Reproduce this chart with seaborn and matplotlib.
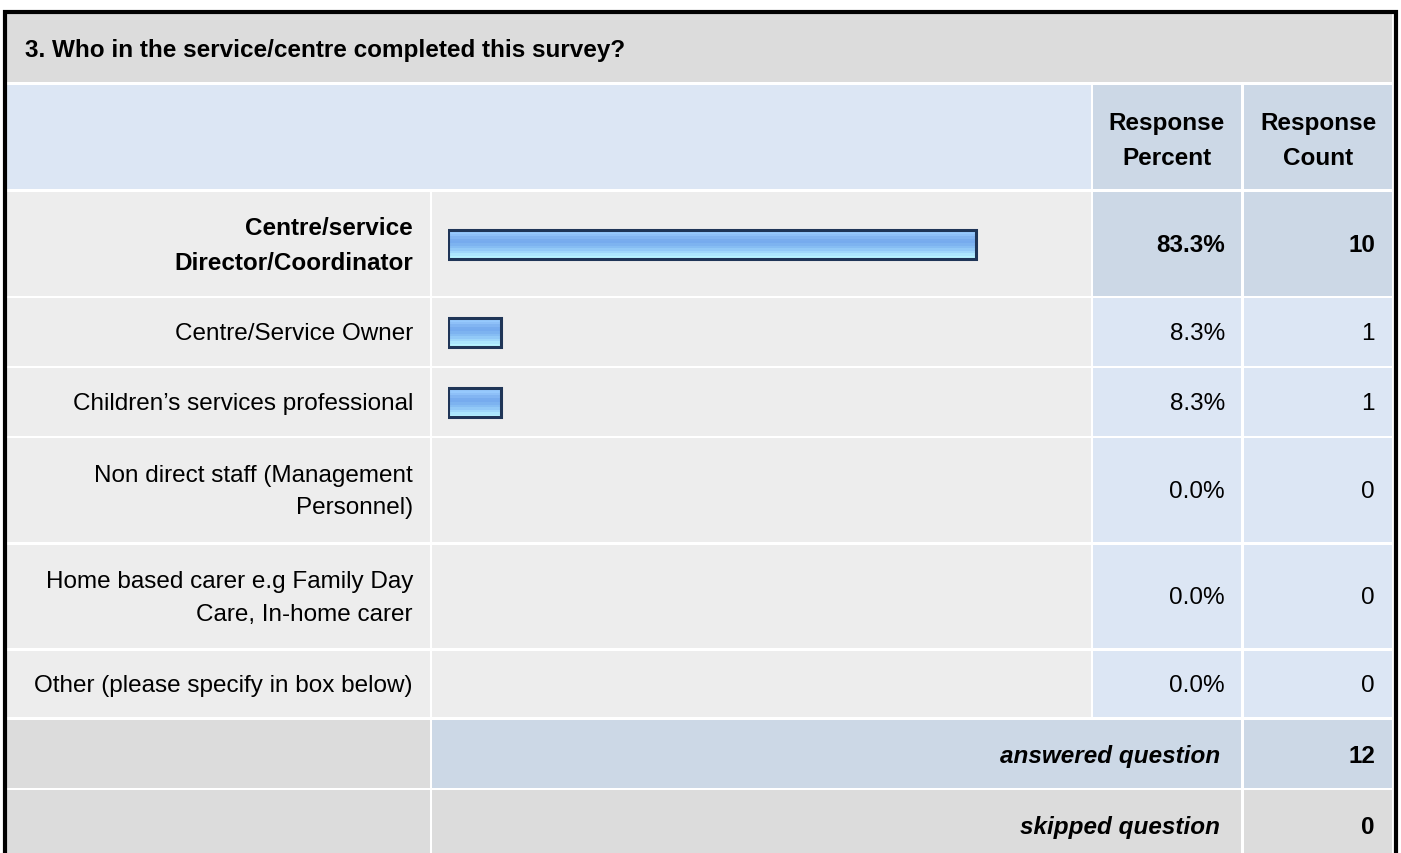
import numpy as np
import pandas as pd
import seaborn as sns
import matplotlib.pyplot as plt
from matplotlib.patches import Rectangle

# Survey data
question = "3. Who in the service/centre completed this survey?"
answer_labels = [
    "Centre/service\nDirector/Coordinator",
    "Centre/Service Owner",
    "Children’s services professional",
    "Non direct staff (Management\nPersonnel)",
    "Home based carer e.g Family Day\nCare, In-home carer",
    "Other (please specify in box below)",
]
response_percent = [83.3, 8.3, 8.3, 0.0, 0.0, 0.0]
response_count = [10, 1, 1, 0, 0, 0]
answered_question = 12
skipped_question = 0

# Layout in pixels
W, H = 1401, 854
col_label = (7, 430)
col_bar = (432, 1091)
col_pct = (1093, 1241)
col_cnt = (1244, 1392)
title_row = (15, 83)
header_row = (86, 190)
answer_rows = [(193, 297), (299, 367), (369, 437), (439, 543), (546, 649), (652, 718)]
answered_row = (721, 789)
skipped_row = (791, 860)
bar_x0, bar_x1 = 448, 1082   # 0% .. 100%

GRAY = "#dcdcdc"
ROW = "#ededed"
LIGHT_BLUE = "#dce6f4"
MID_BLUE = "#ccd8e6"
fs = 17.5
lsp = 1.62

sns.set_theme(style="white")
plt.rcParams["font.family"] = ["Liberation Sans", "DejaVu Sans"]
plt.rcParams["text.color"] = "black"

fig = plt.figure(figsize=(W / 100, H / 100), dpi=100)
ax = fig.add_axes([0, 0, 1, 1])
ax.set_xlim(0, W)
ax.set_ylim(H, 0)
ax.axis("off")


def cell(cols, rows, color):
    ax.add_patch(Rectangle((cols[0], rows[0]), cols[1] - cols[0], rows[1] - rows[0],
                           facecolor=color, edgecolor="none", zorder=1))


# outer border
ax.plot([5, 5, 1395.5, 1395.5], [H + 5, 12.5, 12.5, H + 5], color="black", lw=3, zorder=3,
        solid_joinstyle="miter")

cell((col_label[0], col_cnt[1]), title_row, GRAY)
ax.text(25, 50, question, fontsize=fs, fontweight="bold", va="center", ha="left", zorder=4)

cell((col_label[0], col_bar[1]), header_row, LIGHT_BLUE)
cell(col_pct, header_row, MID_BLUE)
cell(col_cnt, header_row, MID_BLUE)
ax.text(sum(col_pct) / 2, 141, "Response\nPercent", fontsize=fs, fontweight="bold",
        ha="center", va="center", linespacing=lsp, zorder=4)
ax.text(sum(col_cnt) / 2, 141, "Response\nCount", fontsize=fs, fontweight="bold",
        ha="center", va="center", linespacing=lsp, zorder=4)

top = int(np.argmax(response_percent))
for i, (rows, lab, pct, cnt) in enumerate(zip(answer_rows, answer_labels, response_percent, response_count)):
    bold = "bold" if i == top else "normal"
    side = MID_BLUE if i == top else LIGHT_BLUE
    cell(col_label, rows, ROW)
    cell(col_bar, rows, ROW)
    cell(col_pct, rows, side)
    cell(col_cnt, rows, side)
    yc = sum(rows) / 2
    ax.text(413, yc + 1, lab, fontsize=fs, fontweight=bold, ha="right", va="center",
            linespacing=lsp, zorder=4)
    ax.text(1225, yc + 1, f"{pct:.1f}%", fontsize=fs, fontweight=bold, ha="right", va="center", zorder=4)
    ax.text(1375, yc + 1, f"{cnt}", fontsize=fs, fontweight=bold, ha="right", va="center", zorder=4)

cell(col_label, answered_row, GRAY)
cell((col_bar[0], col_pct[1]), answered_row, MID_BLUE)
cell(col_cnt, answered_row, MID_BLUE)
cell(col_label, skipped_row, GRAY)
cell((col_bar[0], col_pct[1]), skipped_row, GRAY)
cell(col_cnt, skipped_row, GRAY)
for yc, lab, val in [(757, "answered question", answered_question),
                     (828, "skipped question", skipped_question)]:
    ax.text(1220, yc, lab, fontsize=fs, fontweight="bold", style="italic",
            ha="right", va="center", zorder=4)
    ax.text(1375, yc, f"{val}", fontsize=fs, fontweight="bold", ha="right", va="center", zorder=4)

# bar column: its own axes, 0..100 %
df = pd.DataFrame({
    "answer": answer_labels,
    "percent": response_percent,
    "row_center": [sum(r) / 2 for r in answer_rows],
})
bax = fig.add_axes([bar_x0 / W, 0, (bar_x1 - bar_x0) / W, 1])
bax.patch.set_alpha(0)
min_gap = np.min(np.diff(df["row_center"]))
sns.barplot(data=df, x="percent", y="row_center", orient="h", native_scale=True,
            width=29 / min_gap, color="#78afef", ax=bax, errorbar=None, zorder=5)

grad = ["#9acdff", "#96c9fd", "#8ec0f8", "#82b5f2", "#78acee", "#76abee",
        "#7db3f0", "#86bdf3", "#92c9f7", "#9fd7fa", "#ace6fd", "#b6f2ff"]
grad_rgb = np.array([[int(c[i:i + 2], 16) / 255 for i in (1, 3, 5)] for c in grad])[:, None, :]
for p in bax.patches:
    w = p.get_width()
    if w <= 0:
        p.set_visible(False)
        continue
    x0, y0, h = p.get_x(), p.get_y(), p.get_height()
    y_a, y_b = min(y0, y0 + h), max(y0, y0 + h)
    im = bax.imshow(grad_rgb, extent=(x0, x0 + w, y_b, y_a), origin="upper",
                    aspect="auto", zorder=5, interpolation="nearest")
    im.set_clip_path(p)
    p.set_facecolor("none")
    p.set_edgecolor("#1f3557")
    p.set_linewidth(2.2)
    p.set_zorder(6)
bax.set_xlim(0, 100)
bax.set_ylim(H, 0)
bax.axis("off")

fig.savefig("out.png", dpi=100, facecolor="white")
